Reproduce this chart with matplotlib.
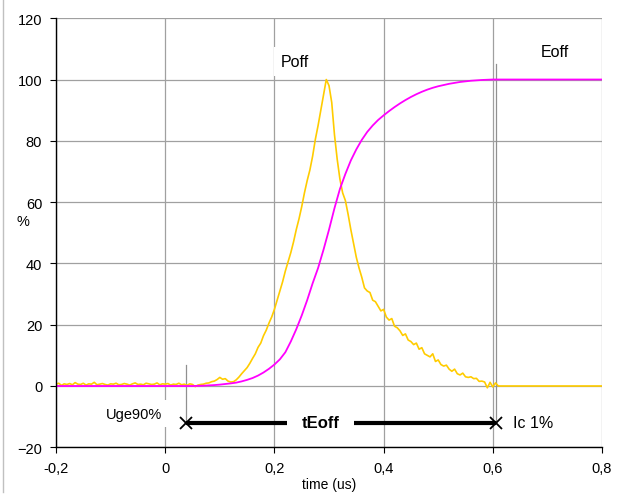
import matplotlib
matplotlib.use("Agg")
import matplotlib.pyplot as plt
from matplotlib.lines import Line2D

plt.rcParams["font.family"] = ["Liberation Sans", "DejaVu Sans"]

# Poff trace (yellow), % of peak
poff_t = [
    -0.2, -0.195, -0.19, -0.185, -0.18, -0.175, -0.17, -0.165, -0.16, -0.155,
    -0.15, -0.145, -0.14, -0.135, -0.13, -0.125, -0.12, -0.115, -0.11, -0.105,
    -0.1, -0.095, -0.09, -0.085, -0.08, -0.075, -0.07, -0.065, -0.06, -0.055,
    -0.05, -0.045, -0.04, -0.035, -0.03, -0.025, -0.02, -0.015, -0.01, -0.005,
    0.0, 0.005, 0.01, 0.015, 0.02, 0.025, 0.03, 0.035, 0.04, 0.045,
    0.05, 0.055, 0.06, 0.065, 0.07, 0.075, 0.08, 0.085, 0.09, 0.095,
    0.1, 0.105, 0.11, 0.115, 0.12, 0.125, 0.13, 0.135, 0.14, 0.145,
    0.15, 0.155, 0.16, 0.165, 0.17, 0.175, 0.18, 0.185, 0.19, 0.195,
    0.2, 0.205, 0.21, 0.215, 0.22, 0.225, 0.23, 0.235, 0.24, 0.245,
    0.25, 0.255, 0.26, 0.265, 0.27, 0.275, 0.28, 0.285, 0.29, 0.295,
    0.3, 0.305, 0.31, 0.315, 0.32, 0.325, 0.33, 0.335, 0.34, 0.345,
    0.35, 0.355, 0.36, 0.365, 0.37, 0.375, 0.38, 0.385, 0.39, 0.395,
    0.4, 0.405, 0.41, 0.415, 0.42, 0.425, 0.43, 0.435, 0.44, 0.445,
    0.45, 0.455, 0.46, 0.465, 0.47, 0.475, 0.48, 0.485, 0.49, 0.495,
    0.5, 0.505, 0.51, 0.515, 0.52, 0.525, 0.53, 0.535, 0.54, 0.545,
    0.55, 0.555, 0.56, 0.565, 0.57, 0.575, 0.58, 0.585, 0.59, 0.595,
    0.6, 0.605, 0.61, 0.8,
]
poff = [
    0.6, 0.9, 0.2, 0.7, 0.5, 0.8, 0.4, 1.1, 0.6, 0.5,
    0.9, 0.3, 0.7, 0.6, 1.2, 0.4, 0.6, 0.8, 0.5, 0.3,
    0.7, 0.6, 0.9, 0.4, 0.5, 0.8, 0.6, 0.3, 0.7, 1.0,
    0.5, 0.6, 0.4, 0.9, 0.7, 0.5, 0.6, 1.0, 0.4, 0.7,
    0.6, 0.8, 0.3, 0.6, 0.5, 0.9, 0.4, 0.6, 0.2, 0.7,
    0.5, -0.2, 0.3, 0.5, 0.6, 0.9, 1.0, 1.4, 1.6, 2.1,
    2.8, 2.2, 2.4, 1.6, 1.3, 1.4, 2.0, 2.9, 4.0, 5.0,
    6.0, 7.4, 9.0, 10.5, 12.6, 14.0, 16.4, 18.2, 20.5, 22.5,
    25.0, 28.0, 31.0, 34.0, 37.5, 40.5, 43.5, 47.0, 51.0, 54.5,
    58.5, 63.0, 67.0, 70.5, 75.0, 80.5, 85.0, 90.0, 95.0, 100.0,
    98.0, 92.5, 82.0, 74.0, 67.5, 63.0, 60.5, 56.0, 51.0, 46.5,
    42.0, 38.5, 35.5, 32.0, 31.0, 30.5, 28.0, 27.5, 26.0, 24.5,
    25.0, 22.5, 21.5, 22.0, 19.5, 19.0, 18.0, 16.5, 17.0, 15.0,
    14.5, 13.5, 14.0, 12.0, 12.5, 10.5, 10.0, 9.5, 10.5, 8.0,
    8.5, 7.0, 6.5, 6.8, 5.5, 4.8, 5.5, 4.0, 3.6, 4.2,
    3.0, 2.8, 3.0, 2.4, 2.5, 1.5, 1.6, 1.3, -0.6, 1.2,
    -0.3, 1.0, 0.0, 0.0,
]

# Eoff trace (magenta), cumulative energy in %
eoff_t = [
    -0.2, 0.05, 0.06, 0.07, 0.08, 0.09, 0.1, 0.11, 0.12, 0.13,
    0.14, 0.15, 0.16, 0.17, 0.18, 0.19, 0.2, 0.21, 0.22, 0.23,
    0.24, 0.25, 0.26, 0.27, 0.28, 0.29, 0.3, 0.31, 0.32, 0.33,
    0.34, 0.35, 0.36, 0.37, 0.38, 0.39, 0.4, 0.41, 0.42, 0.43,
    0.44, 0.45, 0.46, 0.47, 0.48, 0.49, 0.5, 0.52, 0.54, 0.56,
    0.58, 0.6, 0.8,
]
eoff = [
    0.0, 0.0, 0.05, 0.1, 0.2, 0.3, 0.45, 0.65, 0.85, 1.1,
    1.5, 2.0, 2.6, 3.4, 4.4, 5.6, 7.0, 8.7, 11.0, 14.5,
    18.5, 23.0, 28.0, 33.5, 38.5, 44.5, 51.0, 58.0, 64.3, 69.2,
    73.6, 77.2, 80.3, 82.9, 85.0, 86.8, 88.3, 89.7, 91.0, 92.2,
    93.3, 94.3, 95.2, 96.0, 96.7, 97.3, 97.8, 98.6, 99.2, 99.6,
    99.85, 100.0, 100.0,
]

# tEoff window markers
t_start = 0.038
t_end = 0.606
x_ticks = [-0.2, 0.0, 0.2, 0.4, 0.6, 0.8]
x_labels = ["-0,2", "0", "0,2", "0,4", "0,6", "0,8"]
y_ticks = [-20, 0, 20, 40, 60, 80, 100, 120]

fig = plt.figure(figsize=(6.21, 5.02), dpi=100)
ax = fig.add_axes([0.0902, 0.107, 0.8792, 0.8547])

ax.set_xlim(-0.2, 0.8)
ax.set_ylim(-20, 120)
ax.set_xticks(x_ticks)
ax.set_xticklabels(x_labels)
ax.set_yticks(y_ticks)
ax.grid(True, color="#a0a0a0", linewidth=0.9)
ax.set_axisbelow(True)

for side in ["top", "right"]:
    ax.spines[side].set_visible(False)
for side in ["left", "bottom"]:
    ax.spines[side].set_color("black")
    ax.spines[side].set_linewidth(1.0)
ax.tick_params(direction="out", length=4, width=0.8, labelsize=10.5,
               pad=6, colors="black")

# marker lines at both ends of the window
ax.plot([t_start, t_start], [-12, 7], color="#909090", linewidth=0.9)
ax.plot([t_end, t_end], [-12, 105], color="#909090", linewidth=0.9)

ax.plot(poff_t, poff, color="#ffcc00", linewidth=1.2)
ax.plot(eoff_t, eoff, color="#ff00ff", linewidth=1.3)

# tEoff arrow
ax.plot([t_start, 0.223], [-12, -12], color="black", linewidth=3.0,
        solid_capstyle="butt")
ax.plot([0.346, t_end], [-12, -12], color="black", linewidth=3.0,
        solid_capstyle="butt")
ax.plot([t_start, t_end], [-12, -12], linestyle="none", marker="x",
        markersize=9, markeredgewidth=1.3, color="black")

ax.text(0.284, -12, "tEoff", fontsize=12, fontweight="bold",
        ha="center", va="center")
ax.text(-0.057, -9, "Uge90%", fontsize=10.5, ha="center", va="center",
        bbox=dict(facecolor="white", edgecolor="none", pad=4.5))
ax.text(0.637, -12, "Ic 1%", fontsize=11.5, ha="left", va="center")
ax.text(0.238, 106, "Poff", fontsize=11.5, ha="center", va="center",
        bbox=dict(facecolor="white", edgecolor="none", pad=5))
ax.text(0.714, 109, "Eoff", fontsize=11.5, ha="center", va="center")

ax.set_xlabel("time (us)", fontsize=10, labelpad=1)
ax.set_ylabel("%", fontsize=10.5, rotation=0, labelpad=0)
ax.yaxis.set_label_coords(-0.061, 0.51)

# thin frame line on the left edge of the picture
fig.add_artist(Line2D([3 / 621, 3 / 621], [1.0, 1 - 493 / 502],
                      color="#c0c0c0", linewidth=1.0))

fig.savefig("out.png", dpi=100)
